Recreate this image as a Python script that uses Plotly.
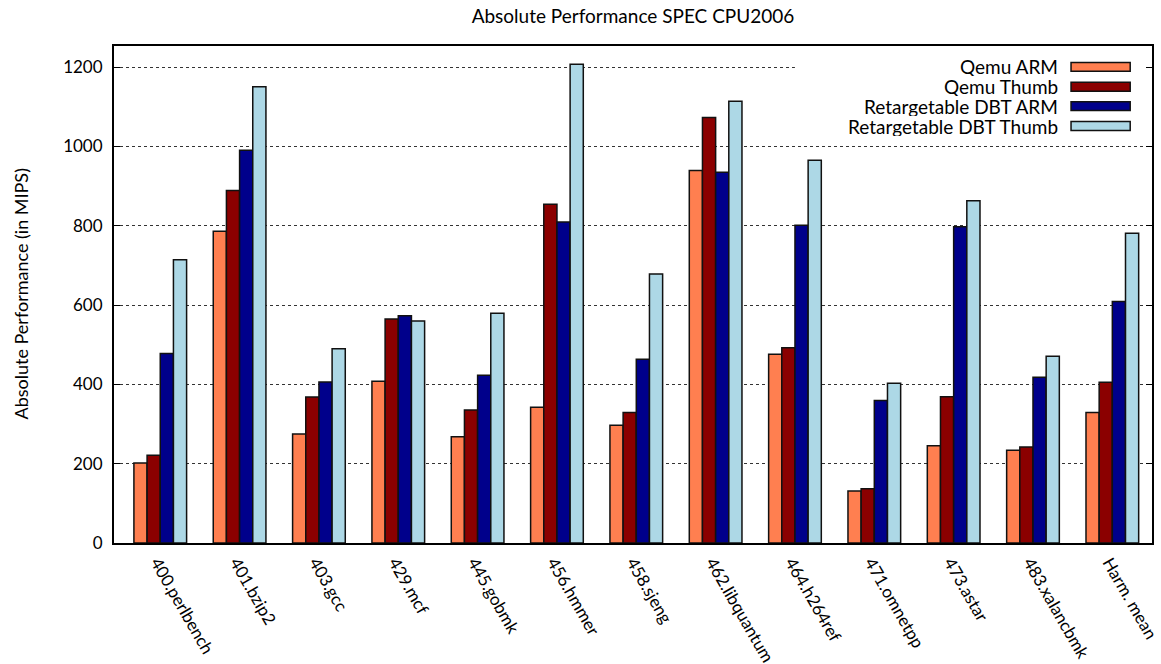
import plotly.graph_objects as go

categories = ["400.perlbench", "401.bzip2", "403.gcc", "429.mcf", "445.gobmk", "456.hmmer",
              "458.sjeng", "462.libquantum", "464.h264ref", "471.omnetpp", "473.astar",
              "483.xalancbmk", "Harm. mean"]
series_names = ["Qemu ARM", "Qemu Thumb", "Retargetable DBT ARM", "Retargetable DBT Thumb"]
qemu_arm = [202, 786, 275, 408, 268, 342, 297, 939, 476, 131, 245, 234, 329]
qemu_thumb = [221, 889, 368, 565, 335, 854, 329, 1073, 492, 137, 369, 242, 405]
dbt_arm = [478, 990, 406, 573, 423, 809, 463, 935, 801, 359, 797, 418, 609]
dbt_thumb = [714, 1150, 490, 560, 579, 1207, 678, 1114, 965, 403, 863, 471, 781]
y_ticks = [0, 200, 400, 600, 800, 1000, 1200]

colors = ["#FF7F50", "#8B0000", "#00008B", "#ADD8E6"]
FONT = "Lato"

fig = go.Figure()
for name, vals, col in zip(series_names, [qemu_arm, qemu_thumb, dbt_arm, dbt_thumb], colors):
    fig.add_trace(go.Bar(x=categories, y=vals, name=name, marker_color=col,
                         marker_line_color="#111111", marker_line_width=1.5,
                         showlegend=False))

fig.update_layout(
    width=1161, height=664,
    margin=dict(l=114, r=9, t=46, b=121, autoexpand=False),
    plot_bgcolor="white", paper_bgcolor="white",
    barmode="group", bargap=0.336, bargroupgap=0,
    font=dict(family=FONT, size=17, color="black"),
    title=dict(text="Absolute Performance SPEC CPU2006", x=0.5, xref="paper", xanchor="center",
               y=1 - 16 / 664, yanchor="middle", font=dict(size=19)),
)
fig.update_xaxes(range=[-0.583, 12.5], showline=True, linecolor="black", linewidth=2, mirror=True,
                 tickangle=60, ticks="", showgrid=False, tickfont=dict(size=17),
                 automargin=False, ticklabelshift=-3, ticklabelstandoff=1)
fig.update_yaxes(range=[0, 1253], tickvals=y_ticks, showline=True, linecolor="black", linewidth=2,
                 mirror="ticks", ticks="inside", ticklen=6, tickcolor="black",
                 showgrid=True, gridcolor="#333333", griddash="dot", gridwidth=1,
                 zeroline=False, tickfont=dict(size=17), ticklabelstandoff=6, automargin=False)

# y-axis title
fig.add_annotation(text="Absolute Performance (in MIPS)", xref="paper", yref="paper",
                   x=(20 - 114) / 1038, y=0.5, xanchor="center", yanchor="middle",
                   textangle=-90, showarrow=False, font=dict(size=18))

# custom legend (text on left, swatch on right) with white background
fig.add_shape(type="rect", xref="paper", yref="paper", x0=0.656, x1=0.992, y0=0.815, y1=0.985,
              fillcolor="white", line_width=0, layer="above")
legend_y = [0.958, 0.918, 0.879, 0.839]
for name, col, ly in zip(series_names, colors, legend_y):
    fig.add_annotation(text=name, xref="paper", yref="paper", x=0.9104, y=ly,
                       xanchor="right", yanchor="middle", showarrow=False,
                       font=dict(size=19), borderpad=0, height=19, valign="middle")
    fig.add_shape(type="rect", xref="paper", yref="paper", x0=0.922, x1=0.979,
                  y0=ly - 0.009, y1=ly + 0.009, fillcolor=col,
                  line=dict(color="#111111", width=1.5), layer="above")

fig.write_html("out.html", post_script="document.body.style.margin='0px';",
               config={"displayModeBar": False})
